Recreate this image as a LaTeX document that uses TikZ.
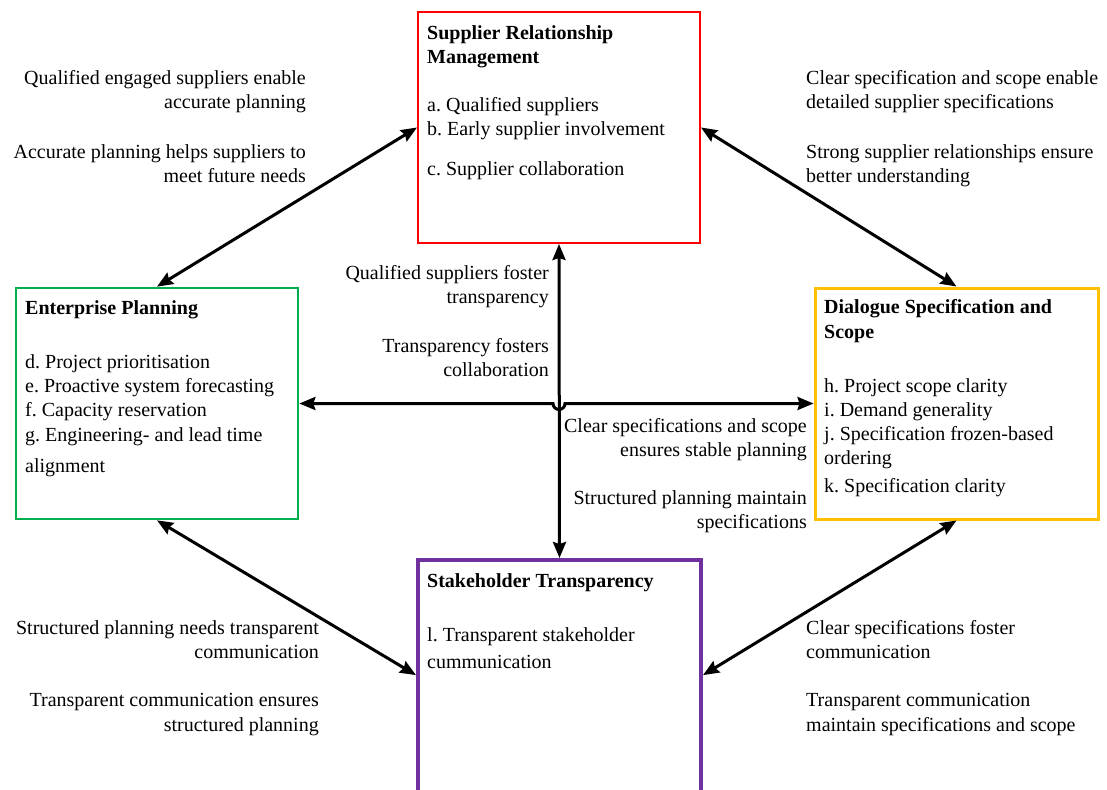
\documentclass[tikz,border=0pt]{standalone}
\usepackage{fontspec}
\setmainfont{Liberation Serif}
\frenchspacing
\usetikzlibrary{arrows.meta,calc}
\definecolor{srmred}{HTML}{FF0000}
\definecolor{epgreen}{HTML}{00B050}
\definecolor{dssgold}{HTML}{FFC000}
\definecolor{stpurple}{HTML}{7030A0}
\tikzset{
  every node/.style={font=\fontsize{20}{24}\selectfont\frenchspacing, inner sep=0pt},
  box/.style={draw, fill=none, inner sep=0pt},
  boxtext/.style={anchor=base west},
  lblR/.style={anchor=base east},
  lblL/.style={anchor=base west},
  tip/.tip={Stealth[length=16pt,width=13pt,inset=2pt]},
  link/.style={line width=3pt, tip-tip}
}
\begin{document}
\begin{tikzpicture}[x=1pt,y=-1pt]
\path[use as bounding box] (0,0) rectangle (1107,789);
\clip (0,0) rectangle (1107,789);

% boxes
\node[box, draw=srmred, line width=2pt, minimum width=282pt, minimum height=231pt] (SRM) at (559,127.5) {};
\node[box, draw=epgreen, line width=2.7pt, minimum width=282pt, minimum height=231pt] (EP) at (157,403.5) {};
\node[box, draw=dssgold, line width=3pt, minimum width=283pt, minimum height=231pt] (DSS) at (956.5,403.5) {};
\node[box, draw=stpurple, line width=4pt, minimum width=283pt, minimum height=240pt] (ST) at (559.5,680) {};

% box contents
\node[boxtext] (SRMtxt) at (427,39.5) {\begin{tabular}[t]{@{}l@{}}
\textbf{Supplier Relationship}\\
\textbf{Management}\\[24.5pt]
a. Qualified suppliers\\
b. Early supplier involvement\\[16pt]
c. Supplier collaboration
\end{tabular}};

\node[boxtext] (EPtxt) at (25,314.5) {\begin{tabular}[t]{@{}l@{}}
\textbf{Enterprise Planning}\\[29.5pt]
d. Project prioritisation\\[0.5pt]
e. Proactive system forecasting\\
f. Capacity reservation\\[1pt]
g. Engineering- and lead time\\[7pt]
alignment
\end{tabular}};

\node[boxtext] (DSStxt) at (824,313.5) {\begin{tabular}[t]{@{}l@{}}
\textbf{Dialogue Specification and}\\[0.5pt]
\textbf{Scope}\\[30pt]
h. Project scope clarity\\
i. Demand generality\\[0.5pt]
j. Specification frozen-based\\
ordering\\[4pt]
k. Specification clarity
\end{tabular}};

\node[boxtext] (STtxt) at (427,587.7) {\begin{tabular}[t]{@{}l@{}}
\textbf{Stakeholder Transparency}\\[29.3pt]
l. Transparent stakeholder\\[3.3pt]
cummunication
\end{tabular}};

% connectors
\coordinate (cross) at (SRM.south |- EP.east);
\draw[link] (SRM.west) -- (EP.north);
\draw[link] (SRM.east) -- (DSS.north);
\draw[link] (EP.south) -- ($(ST.north west)!0.48!(ST.south west)$);
\draw[link] (DSS.south) -- ($(ST.north east)!0.48!(ST.south east)$);
\draw[link] (SRM.south) -- (ST.north);
\draw[link] (EP.east) -- ([xshift=-6pt]cross) arc[start angle=180, end angle=360, radius=6pt] -- (DSS.west);

% connector labels
\node[lblR] (tl) at (306,84.5) {\begin{tabular}[t]{@{}r@{}}
Qualified engaged suppliers enable\\
accurate planning\\[26pt]
Accurate planning helps suppliers to\\
meet future needs
\end{tabular}};

\node[lblL] (tr) at (806,84.5) {\begin{tabular}[t]{@{}l@{}}
Clear specification and scope enable\\
detailed supplier specifications\\[26pt]
Strong supplier relationships ensure\\
better understanding
\end{tabular}};

\node[lblR] (ct) at (549,279.5) {\begin{tabular}[t]{@{}r@{}}
Qualified suppliers foster\\
transparency\\[25pt]
Transparency fosters\\
collaboration
\end{tabular}};

\node[lblR] (cb) at (807,432.5) {\begin{tabular}[t]{@{}r@{}}
Clear specifications and scope\\
ensures stable planning\\[24pt]
Structured planning maintain\\
specifications
\end{tabular}};

\node[lblR] (bl) at (319,634.5) {\begin{tabular}[t]{@{}r@{}}
Structured planning needs transparent\\
communication\\[24pt]
Transparent communication ensures\\[1pt]
structured planning
\end{tabular}};

\node[lblL] (br) at (806,634.5) {\begin{tabular}[t]{@{}l@{}}
Clear specifications foster\\
communication\\[24pt]
Transparent communication\\[1pt]
maintain specifications and scope
\end{tabular}};
\end{tikzpicture}
\end{document}
